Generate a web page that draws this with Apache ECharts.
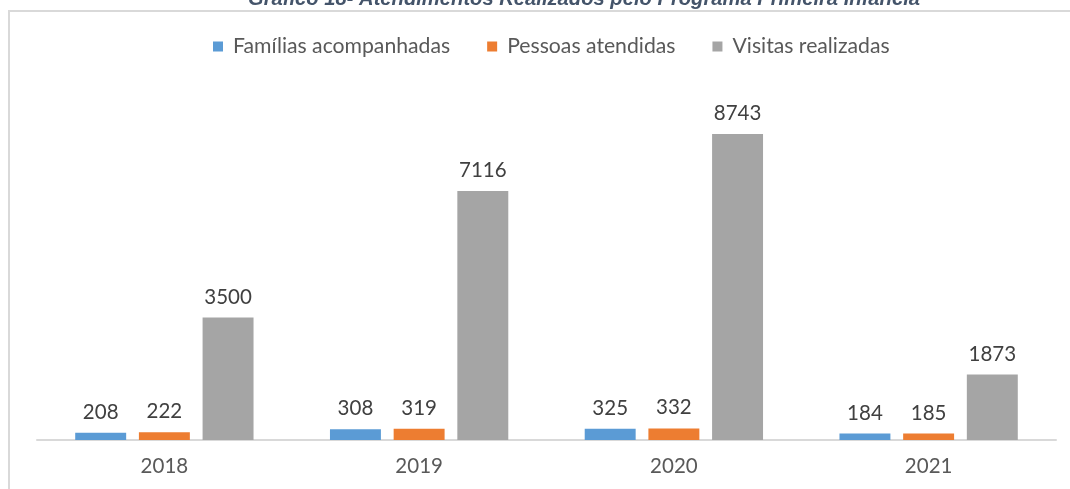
<!DOCTYPE html>
<html>
<head>
<meta charset="utf-8">
<script src="https://cdn.jsdelivr.net/npm/echarts@6/dist/echarts.min.js"></script>
<style>
  html, body { margin: 0; padding: 0; background: #fff; }
  #frame { position: absolute; left: 8px; top: 10px; width: 1080px; height: 500px; border-left: 2px solid #d9d9d9; border-top: 2px solid #d9d9d9; }
  #chart { position: absolute; left: 0; top: 0; width: 1070px; height: 489px; }
</style>
</head>
<body>
<div id="frame"></div>
<div id="chart"></div>
<script>
  // dados do gráfico
  const anos = ['2018', '2019', '2020', '2021'];
  const familias = [208, 308, 325, 184];
  const pessoas = [222, 319, 332, 185];
  const visitas = [3500, 7116, 8743, 1873];
  const legenda = ['Famílias acompanhadas', 'Pessoas atendidas', 'Visitas realizadas'];

  const fonte = 'Lato, "Open Sans", sans-serif';
  const chart = echarts.init(document.getElementById('chart'));

  function serie(nome, dados, cor) {
    return {
      name: nome,
      type: 'bar',
      data: dados,
      barGap: '25%',
      barCategoryGap: '30%',
      itemStyle: { color: cor },
      label: {
        show: true,
        position: 'top',
        distance: 10,
        color: '#404040',
        fontSize: 20.5,
        fontFamily: fonte
      }
    };
  }

  chart.setOption({
    animation: false,
    graphic: [{
      type: 'text',
      left: 248,
      top: -11,
      style: {
        text: 'Gráfico 18- Atendimentos Realizados pelo Programa Primeira Infância',
        fill: '#44546a',
        font: 'italic bold 20.2px "Liberation Sans", Arial, sans-serif'
      }
    }],
    legend: {
      data: legenda,
      top: 31,
      left: 208,
      itemWidth: 10,
      itemHeight: 10,
      itemGap: 37,
      icon: 'rect',
      textStyle: { color: '#595959', fontSize: 21.2, fontFamily: fonte, padding: [0, 0, 0, 5] }
    },
    grid: { left: 37, right: 14, top: 90, bottom: 49 },
    xAxis: {
      type: 'category',
      data: anos,
      axisLine: { lineStyle: { color: '#d9d9d9', width: 2 } },
      axisTick: { show: false },
      axisLabel: { color: '#595959', fontSize: 20.5, fontFamily: fonte, margin: 16 }
    },
    yAxis: {
      type: 'value',
      min: 0,
      max: 10000,
      show: false,
      splitLine: { show: false }
    },
    series: [
      serie(legenda[0], familias, '#5b9bd5'),
      serie(legenda[1], pessoas, '#ed7d31'),
      serie(legenda[2], visitas, '#a5a5a5')
    ]
  });
</script>
</body>
</html>
